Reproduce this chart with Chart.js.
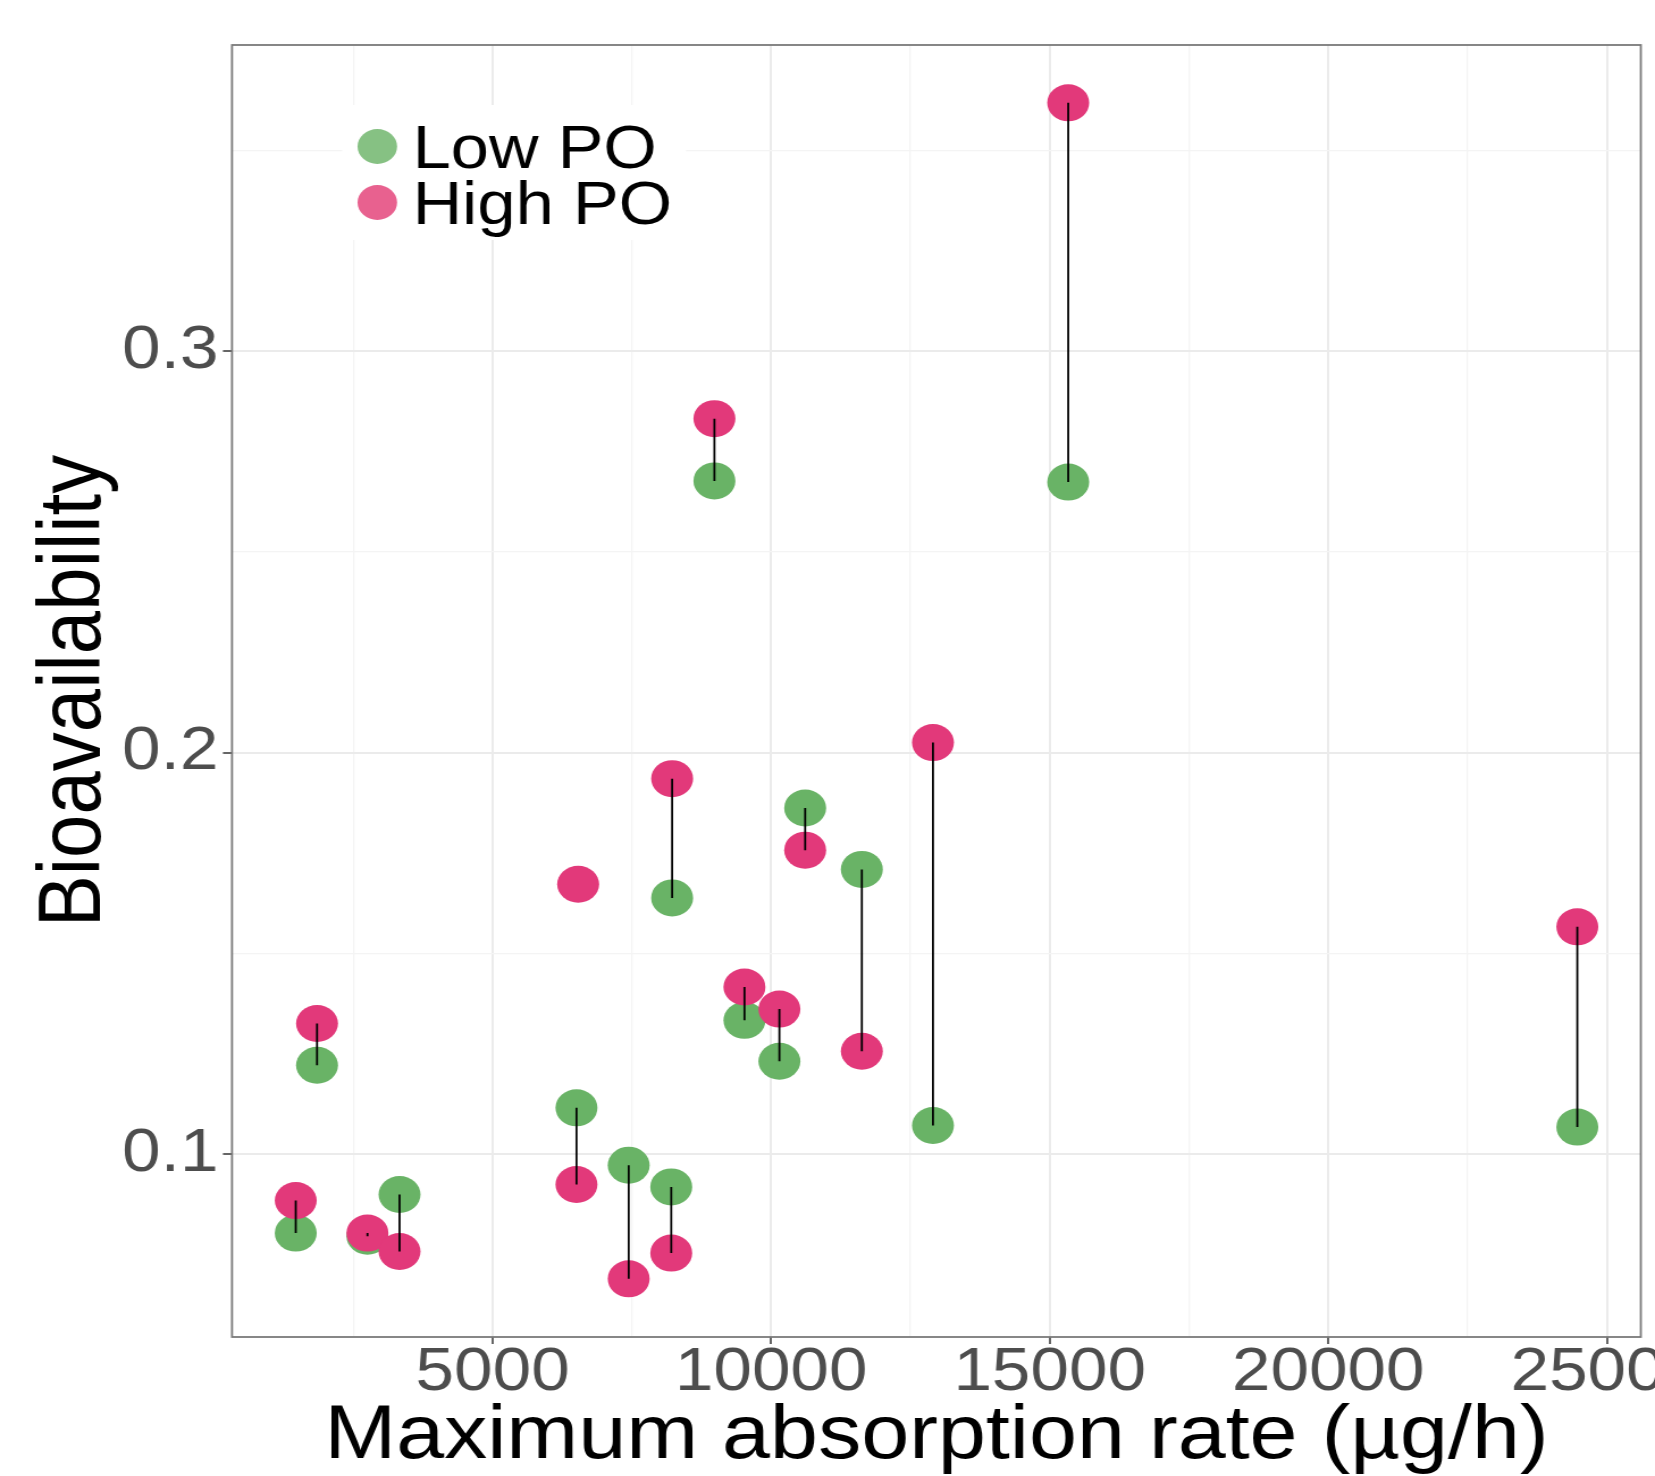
<!DOCTYPE html>
<html>
<head>
<meta charset="utf-8">
<title>Bioavailability vs maximum absorption rate</title>
<script src="https://cdn.jsdelivr.net/npm/chart.js@4.4.0/dist/chart.umd.min.js"></script>
<style>
  html, body { margin: 0; padding: 0; background: #ffffff; }
  #wrap { width: 1655px; height: 1476px; }
</style>
</head>
<body>
<div id="wrap">
  <!-- the source figure is stretched sideways, so the canvas is drawn narrower and scaled up -->
  <canvas id="chart" width="1458" height="1476" style="width:1655px;height:1476px"></canvas>
</div>
<script>
// maximum absorption rate (µg/h), one entry per subject
const rate = [1467, 1849, 2754, 3330, 6506, 6536, 7443, 8207, 8223, 8982, 9521, 10148, 10610, 11628, 12905, 15332, 24470];
// bioavailability at low / high PO
const lowPO = [0.0803, 0.1221, 0.0795, 0.0899, 0.1115, null, 0.0972, 0.0918, 0.1638, 0.2677, 0.1333, 0.1231, 0.1862, 0.1709, 0.1071, 0.2674, 0.1067];
const highPO = [0.0884, 0.1325, 0.0803, 0.0757, 0.0924, 0.1672, 0.0689, 0.0753, 0.1935, 0.2832, 0.1416, 0.1361, 0.1757, 0.1256, 0.2025, 0.3619, 0.1566];

// grid positions (labelled ones are the multiples of 5000 / 0.1)
const xTicks = [2500, 5000, 7500, 10000, 12500, 15000, 17500, 20000, 22500, 25000];
const yTicks = [0.1, 0.15, 0.2, 0.25, 0.3, 0.35];

const seriesLabels = ['Low PO', 'High PO'];
const xTitle = 'Maximum absorption rate (µg/h)';
const yTitle = 'Bioavailability';

const FONT = '"Liberation Sans", Arial, sans-serif';
const GREEN = '#69b366';
const PINK = '#e2397a';

const isMajorX = v => Math.abs(v % 5000) < 1e-6;
const isMajorY = v => Math.abs(v * 10 - Math.round(v * 10)) < 1e-6;

function points(values) {
  const out = [];
  rate.forEach((x, i) => {
    if (values[i] !== null) out.push({ x: x, y: values[i] });
  });
  return out;
}

// one short black segment per subject, joining its two points
const segments = [];
rate.forEach((x, i) => {
  if (lowPO[i] === null || highPO[i] === null) return;
  segments.push({
    type: 'line',
    data: [{ x: x, y: lowPO[i] }, { x: x, y: highPO[i] }],
    borderColor: '#000000',
    borderWidth: 1.8,
    pointRadius: 0,
    fill: false,
    order: 0
  });
});

const datasets = [
  {
    type: 'scatter',
    label: seriesLabels[0],
    data: points(lowPO),
    backgroundColor: GREEN,
    borderWidth: 0,
    pointRadius: 18.5,
    legendColor: '#86c183',
    order: 2
  },
  {
    type: 'scatter',
    label: seriesLabels[1],
    data: points(highPO),
    backgroundColor: PINK,
    borderWidth: 0,
    pointRadius: 18.5,
    legendColor: '#e8618f',
    order: 1
  }
].concat(segments);

// legend sits inside the panel, on a white key box
const insideLegend = {
  id: 'insideLegend',
  beforeDatasetsDraw(chart) {
    const ctx = chart.ctx;
    const area = chart.chartArea;
    const items = chart.data.datasets.filter(d => d.legendColor);
    ctx.save();
    ctx.fillStyle = '#ffffff';
    ctx.fillRect(area.left + 97, area.top + 60, 303, 135);
    ctx.font = '60.5px ' + FONT;
    ctx.textBaseline = 'alphabetic';
    items.forEach((d, i) => {
      const cy = area.top + 101.5 + i * 56;
      ctx.fillStyle = d.legendColor;
      ctx.beginPath();
      ctx.arc(area.left + 128, cy, 17.4, 0, Math.PI * 2);
      ctx.fill();
      ctx.fillStyle = '#000000';
      ctx.fillText(d.label, area.left + 159, cy + 21);
    });
    ctx.restore();
  }
};

const panelBorder = {
  id: 'panelBorder',
  afterDraw(chart) {
    const a = chart.chartArea;
    const ctx = chart.ctx;
    ctx.save();
    ctx.strokeStyle = '#7a7a7a';
    ctx.lineWidth = 1.8;
    ctx.strokeRect(a.left, a.top, a.right - a.left, a.bottom - a.top);
    ctx.restore();
  }
};

function noPadding(scale) {
  scale.paddingLeft = 0;
  scale.paddingRight = 0;
  scale.paddingTop = 0;
  scale.paddingBottom = 0;
}

new Chart(document.getElementById('chart'), {
  data: { datasets: datasets },
  options: {
    responsive: false,
    animation: false,
    layout: {
      autoPadding: false,
      padding: { top: 45, right: 12.5, bottom: 0, left: 0 }
    },
    plugins: {
      legend: { display: false },
      tooltip: { enabled: false }
    },
    scales: {
      x: {
        type: 'linear',
        position: 'bottom',
        bounds: 'data',
        min: 323,
        max: 25610,
        afterBuildTicks: scale => {
          scale.ticks = xTicks.map(v => ({ value: v }));
        },
        afterFit: scale => {
          scale.height = 139;
          noPadding(scale);
        },
        border: { display: false },
        grid: {
          color: c => (c.tick && isMajorX(c.tick.value) ? '#ebebeb' : '#f4f4f4'),
          lineWidth: c => (c.tick && isMajorX(c.tick.value) ? 2 : 1.3),
          tickColor: c => (c.tick && isMajorX(c.tick.value) ? '#333333' : 'rgba(0,0,0,0)'),
          tickLength: 7,
          tickWidth: 1.5
        },
        ticks: {
          autoSkip: false,
          maxRotation: 0,
          minRotation: 0,
          padding: -1,
          color: '#4d4d4d',
          font: { family: FONT, size: 61, lineHeight: 1 },
          callback: v => (isMajorX(v) ? String(v) : '')
        },
        title: {
          display: true,
          text: xTitle,
          color: '#000000',
          font: { family: FONT, size: 76, lineHeight: 1 },
          padding: { top: 0, bottom: 1 }
        }
      },
      y: {
        type: 'linear',
        position: 'left',
        bounds: 'data',
        min: 0.0544,
        max: 0.3763,
        afterBuildTicks: scale => {
          scale.ticks = yTicks.map(v => ({ value: v }));
        },
        afterFit: scale => {
          scale.width = 204.4;
          noPadding(scale);
        },
        border: { display: false },
        grid: {
          color: c => (c.tick && isMajorY(c.tick.value) ? '#ebebeb' : '#f4f4f4'),
          lineWidth: c => (c.tick && isMajorY(c.tick.value) ? 2 : 1.3),
          tickColor: c => (c.tick && isMajorY(c.tick.value) ? '#333333' : 'rgba(0,0,0,0)'),
          tickLength: 8,
          tickWidth: 1.5
        },
        ticks: {
          autoSkip: false,
          padding: 4,
          color: '#4d4d4d',
          font: { family: FONT, size: 61, lineHeight: 1 },
          callback: v => (isMajorY(v) ? v.toFixed(1) : '')
        },
        title: {
          display: true,
          text: yTitle,
          color: '#000000',
          font: { family: FONT, size: 78, lineHeight: 1 },
          padding: { top: 27.3, bottom: 0 }
        }
      }
    }
  },
  plugins: [insideLegend, panelBorder]
});
</script>
</body>
</html>
